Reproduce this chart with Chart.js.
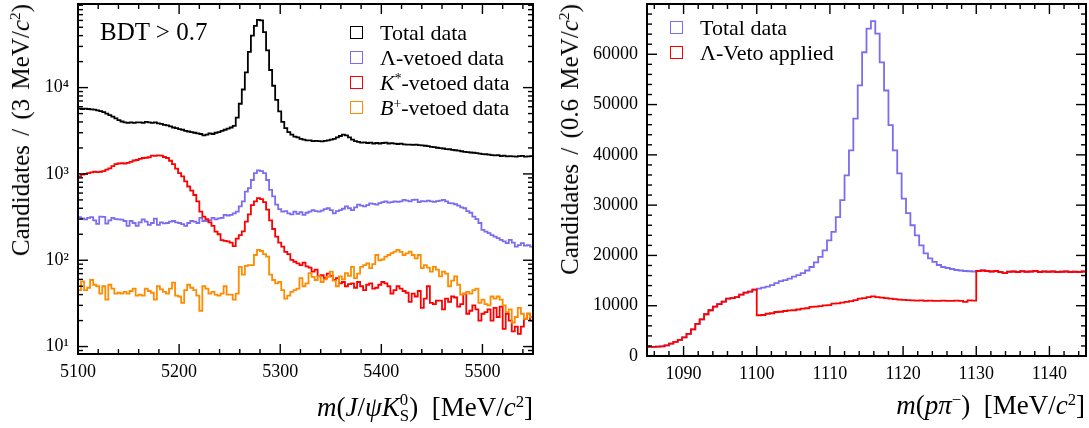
<!DOCTYPE html>
<html>
<head>
<meta charset="utf-8">
<script src="https://cdn.jsdelivr.net/npm/chart.js@4.4.1/dist/chart.umd.min.js"></script>
<style>
  body { margin: 0; width: 1089px; height: 428px; background: #fff; position: relative; overflow: hidden;
         font-family: "Liberation Serif", serif; color: #000; }
  .panel { position: absolute; top: 0; }
  .txt { position: absolute; white-space: nowrap; line-height: 1; }
  .ytitle { transform-origin: 0 0; transform: rotate(-90deg) translateX(-100%); font-size: 25px; word-spacing: 3px; }
  .xtitle { font-size: 27px; }
  sup { font-size: 0.62em; vertical-align: 0.55em; line-height: 0; }
  .stack { display: inline-block; font-size: 0.62em; line-height: 0.95; vertical-align: -0.3em; }
  .stack span { display: block; }
  .legend { position: absolute; font-size: 22px; }
  .legend .row { display: flex; align-items: center; height: 25px; }
  .legend .box { width: 13px; height: 13px; border: 1.6px solid; box-sizing: border-box; margin-right: 17px; }
</style>
</head>
<body>
<div class="panel" style="left:0px"><canvas id="bdt-chart" width="545" height="428"></canvas></div>
<div class="panel" style="left:545px"><canvas id="ppi-chart" width="544" height="428"></canvas></div>

<div class="txt" style="left:100px; top:19px; font-size:25px;">BDT &gt; 0.7</div>
<div id="bdt-legend" class="legend" style="left:350px; top:20px;"></div>
<div id="ppi-legend" class="legend" style="left:670px; top:15px;"></div>

<div class="txt ytitle" style="left:8px; top:4px;">Candidates / (3 MeV/<i>c</i><sup>2</sup>)</div>
<div class="txt ytitle" style="left:557px; top:4px;">Candidates / (0.6 MeV/<i>c</i><sup>2</sup>)</div>
<div class="txt xtitle" style="right:556px; top:392px;"><i>m</i>(<i>J</i>/<i>ψ</i><i>K</i><span class="stack"><span>0</span><span>S</span></span>)&nbsp;&nbsp;[MeV/<i>c</i><sup>2</sup>]</div>
<div class="txt xtitle" style="right:4px; top:392px;"><i>m</i>(<i>pπ</i><sup>−</sup>)&nbsp;&nbsp;[MeV/<i>c</i><sup>2</sup>]</div>

<script>
// m(J/psi K0S) histograms, 3 MeV bins from 5100 to 5550
const bdtLo = 5100, bdtWidth = 3;
const bdtTotal = [
  5700, 5650, 5700, 5650, 5600, 5550, 5450, 5350, 5200, 5000,
  4800, 4600, 4400, 4200, 4050, 3950, 3900, 3950, 3900, 3950,
  3950, 3900, 4000, 3950, 3900, 3950, 3850, 3800, 3700, 3650,
  3550, 3450, 3400, 3300, 3250, 3150, 3100, 3050, 3000, 2950,
  2900, 2800, 2850, 2950, 2900, 3000, 3050, 3150, 3250, 3350,
  3450, 3600, 4500, 6500, 9500, 15000, 26000, 40000, 52000, 61000,
  60000, 44000, 27000, 16000, 10500, 7200, 5300, 4000, 3400, 3050,
  2850, 2700, 2650, 2550, 2500, 2450, 2450, 2400, 2420, 2400,
  2380, 2420, 2450, 2500, 2550, 2650, 2750, 2850, 2800, 2650,
  2500, 2400, 2350, 2300, 2320, 2280, 2300, 2250, 2280, 2250,
  2280, 2300, 2250, 2270, 2240, 2220, 2240, 2200, 2190, 2180,
  2170, 2180, 2150, 2140, 2120, 2100, 2060, 2040, 2010, 1990,
  1970, 1940, 1930, 1900, 1880, 1860, 1830, 1800, 1790, 1770,
  1760, 1740, 1720, 1700, 1690, 1670, 1650, 1640, 1650, 1610,
  1630, 1600, 1610, 1600, 1590, 1610, 1620, 1590, 1600, 1610
];
const bdtLambdaVeto = [
  316, 305, 298, 310, 316, 290, 264, 320, 318, 265,
  290, 310, 300, 298, 295, 285, 250, 285, 270, 250,
  275, 298, 280, 257, 270, 303, 257, 275, 268, 270,
  280, 285, 275, 270, 262, 250, 270, 285, 280, 270,
  310, 285, 285, 290, 310, 298, 305, 310, 335, 330,
  335, 350, 365, 420, 480, 625, 686, 850, 1020, 1100,
  1080, 1020, 850, 655, 550, 440, 390, 365, 370, 350,
  340, 365, 345, 360, 335, 355, 365, 380, 370, 365,
  375, 390, 400, 380, 350, 370, 380, 395, 420, 400,
  380, 410, 440, 430, 420, 435, 455, 450, 440, 460,
  470, 480, 465, 470, 480, 475, 480, 500, 490, 480,
  500, 505, 470, 485, 480, 490, 480, 475, 485, 490,
  500, 480, 460, 455, 445, 430, 410, 400, 370, 355,
  320, 300, 270, 225, 215, 206, 195, 188, 180, 172,
  165, 158, 172, 160, 144, 150, 158, 148, 150, 144
];
const bdtKstarVeto = [
  935, 980, 1000, 1020, 1040, 1060, 1050, 1060, 1080, 1120,
  1160, 1230, 1300, 1320, 1330, 1320, 1340, 1380, 1430, 1450,
  1490, 1530, 1540, 1560, 1630, 1620, 1640, 1630, 1570, 1530,
  1420, 1300, 1150, 1020, 935, 820, 715, 640, 570, 480,
  366, 320, 300, 275, 250, 215, 200, 171, 168, 165,
  160, 146, 178, 195, 216, 280, 340, 436, 480, 525,
  510, 470, 385, 290, 230, 188, 160, 144, 125, 118,
  101, 96, 92, 88, 94, 85, 82, 74, 78, 65,
  67, 62, 70, 66, 59, 62, 54, 56, 50, 53,
  54, 48, 56, 50, 45, 52, 54, 47, 48, 52,
  56, 54, 50, 41, 45, 50, 47, 44, 42, 33,
  41, 38, 44, 28, 36, 50, 32, 31, 34, 34,
  27, 36, 33, 38, 37, 29, 31, 41, 24, 26,
  30, 27, 20, 24, 25, 27, 20, 28, 22, 29,
  16, 24, 20, 15, 17, 14, 17, 21, 24, 20
];
const bdtBplusVeto = [
  45, 57, 45, 48, 59, 52, 50, 41, 50, 35,
  52, 47, 41, 42, 41, 43, 41, 44, 47, 39,
  40, 39, 47, 44, 42, 35, 50, 46, 43, 41,
  47, 55, 39, 38, 32, 45, 52, 48, 45, 39,
  26, 50, 47, 41, 43, 40, 39, 41, 50, 40,
  40, 35, 41, 84, 68, 86, 88, 88, 115, 132,
  128, 118, 110, 68, 59, 54, 56, 45, 36, 39,
  43, 45, 47, 62, 50, 54, 71, 64, 59, 65,
  56, 60, 64, 74, 58, 50, 65, 60, 71, 66,
  84, 62, 70, 84, 88, 92, 81, 90, 115, 100,
  102, 110, 115, 121, 126, 132, 125, 115, 120, 126,
  115, 105, 115, 81, 88, 82, 74, 84, 78, 65,
  74, 70, 50, 58, 65, 52, 40, 41, 43, 41,
  45, 47, 32, 35, 31, 30, 38, 36, 38, 35,
  30, 25, 27, 19, 22, 28, 24, 21, 24, 22
];

// m(p pi-) histograms, 0.6 MeV bins from 1085 to 1145
const ppiLo = 1085, ppiWidth = 0.6;
const ppiTotal = [
  1800, 1800, 1850, 1900, 2100, 2450, 2800, 3200, 3700, 4400,
  5300, 6400, 7300, 8300, 9100, 9800, 10300, 10800, 11400, 11500,
  11700, 12200, 12600, 12800, 13200, 13400, 13600, 13800, 14100, 14500,
  14900, 15100, 15400, 15800, 16100, 16500, 17000, 17700, 18600, 19700,
  21000, 23000, 24700, 27600, 31000, 35900, 40900, 47200, 53800, 60400,
  65100, 66600, 64100, 58400, 52800, 45900, 40900, 36300, 31300, 28400,
  26000, 24000, 22000, 20400, 19400, 18700, 18100, 17700, 17500, 17300,
  17100, 17000, 16900, 16850, 16800, 16900, 17000, 16900, 16800, 16900,
  16700, 16500, 16750, 16800, 16700, 16850, 16750, 16800, 16900, 16700,
  16800, 16750, 16800, 16700, 16750, 16800, 16700, 16750, 16700, 16800
];
const ppiLambdaVeto = [
  1800, 1800, 1850, 1900, 2100, 2450, 2800, 3200, 3700, 4400,
  5300, 6400, 7300, 8300, 9100, 9800, 10300, 10800, 11400, 11500,
  11700, 12200, 12600, 12800, 13200, 8100, 8150, 8400, 8500, 8750,
  8800, 8950, 9080, 9100, 9250, 9420, 9500, 9750, 9800, 9900,
  10080, 10100, 10400, 10450, 10600, 10750, 10900, 11100, 11400, 11500,
  11700, 11870, 11700, 11600, 11500, 11400, 11300, 11200, 11150, 11100,
  11070, 11000, 11050, 10970, 11000, 10970, 10950, 11000, 10970, 10950,
  11000, 10980, 10750, 11070, 11000, 16900, 17000, 16900, 16800, 16900,
  16700, 16500, 16750, 16800, 16700, 16850, 16750, 16800, 16900, 16700,
  16800, 16750, 16800, 16700, 16750, 16800, 16700, 16750, 16700, 16800
];

const bdtLabels = ["Total data", "Λ-vetoed data", "K*-vetoed data", "B+-vetoed data"];
const bdtLegendHtml = ["Total data", "Λ-vetoed data", "<i>K</i><sup>*</sup>-vetoed data", "<i>B</i><sup>+</sup>-vetoed data"];
const bdtColors = ["#000000", "#7b6cf0", "#ff0000", "#ff8c00"];
const ppiLabels = ["Total data", "Λ-Veto applied"];
const ppiColors = ["#7b6cf0", "#ff0000"];

const bdtXTicks = [5100, 5200, 5300, 5400, 5500];
const bdtYTicks = [10, 100, 1000, 10000];
const ppiXTicks = [1090, 1100, 1110, 1120, 1130, 1140];
const ppiYTicks = [0, 10000, 20000, 30000, 40000, 50000, 60000];
const supDigits = { 1: "¹", 2: "²", 3: "³", 4: "⁴" };

// turn bin contents into step points: low edge of each bin, plus closing edge
function histPoints(lo, width, counts) {
  let pts = counts.map((c, i) => ({ x: lo + i * width, y: c }));
  pts.push({ x: lo + counts.length * width, y: counts[counts.length - 1] });
  return pts;
}

function range(from, to, step) {
  let out = [];
  for (let v = from; v <= to + 1e-9; v += step) out.push(+v.toFixed(6));
  return out;
}

function logMinors(lo, hi) {
  let out = [];
  for (let d = 1; d <= 100000; d *= 10) {
    for (let k = 2; k <= 9; k++) if (k * d >= lo && k * d <= hi) out.push(k * d);
  }
  return out;
}

// box around the plot area, with inward ticks on all four sides
function frameTicks(marks) {
  return {
    id: "frameTicks",
    afterDraw(chart) {
      const { ctx, chartArea: a, scales } = chart;
      const x = scales.x, y = scales.y;
      const w = 1.4;
      ctx.save();
      ctx.fillStyle = "#000";
      const vTick = (v, len) => {
        const px = x.getPixelForValue(v);
        ctx.fillRect(px - w / 2, a.bottom - len, w, len);
        ctx.fillRect(px - w / 2, a.top, w, len);
      };
      const hTick = (v, len) => {
        const py = y.getPixelForValue(v);
        ctx.fillRect(a.left, py - w / 2, len, w);
        ctx.fillRect(a.right - len, py - w / 2, len, w);
      };
      marks.xMajor.forEach((v) => vTick(v, 10));
      marks.xMinor.forEach((v) => vTick(v, 5));
      marks.yMajor.forEach((v) => hTick(v, 10));
      marks.yMinor.forEach((v) => hTick(v, 5));
      ctx.strokeStyle = "#000";
      ctx.lineWidth = 2;
      ctx.strokeRect(a.left, a.top, a.right - a.left, a.bottom - a.top);
      ctx.restore();
    },
  };
}

const tickFont = { family: "Liberation Serif", size: 18 };

function makeChart(id, cfg) {
  return new Chart(document.getElementById(id), {
    type: "line",
    data: { datasets: cfg.datasets },
    plugins: [frameTicks(cfg.frame)],
    options: {
      responsive: false,
      animation: false,
      events: [],
      layout: { padding: { top: 4, right: cfg.padRight, left: 0, bottom: 0 } },
      elements: { point: { radius: 0 }, line: { borderWidth: 1.8, tension: 0 } },
      plugins: { legend: { display: false }, tooltip: { enabled: false } },
      scales: {
        x: {
          type: "linear",
          min: cfg.xMin,
          max: cfg.xMax,
          grid: { display: false, drawTicks: false },
          border: { display: false },
          afterBuildTicks: (s) => { s.ticks = cfg.xTicks.map((v) => ({ value: v })); },
          afterFit: (s) => { s.height = cfg.xHeight; s.paddingLeft = 0; s.paddingRight = 0; },
          ticks: { color: "#000", font: tickFont, padding: 7, maxRotation: 0, callback: (v) => String(v) },
        },
        y: {
          type: cfg.yType,
          min: cfg.yMin,
          max: cfg.yMax,
          grid: { display: false, drawTicks: false },
          border: { display: false },
          afterBuildTicks: (s) => { s.ticks = cfg.yTicks.map((v) => ({ value: v })); },
          afterFit: (s) => { s.width = cfg.yWidth; s.paddingTop = 0; s.paddingBottom = 0; },
          ticks: { color: "#000", font: tickFont, padding: 9, callback: cfg.yFormat },
        },
      },
    },
  });
}

function buildLegend(elId, htmlLabels, colors) {
  let html = "";
  for (let i = 0; i < htmlLabels.length; i++) {
    html += `<div class="row"><span class="box" style="border-color:${colors[i]}"></span><span>${htmlLabels[i]}</span></div>`;
  }
  document.getElementById(elId).innerHTML = html;
}

const bdtSeries = [bdtTotal, bdtLambdaVeto, bdtKstarVeto, bdtBplusVeto];
makeChart("bdt-chart", {
  datasets: bdtSeries.map((counts, i) => ({
    label: bdtLabels[i],
    data: histPoints(bdtLo, bdtWidth, counts),
    borderColor: bdtColors[i],
    backgroundColor: "transparent",
    stepped: "before",
    order: bdtSeries.length - i,
  })),
  padRight: 12,
  xMin: 5100, xMax: 5550, xTicks: bdtXTicks, xHeight: 74,
  yType: "logarithmic", yMin: 8.2, yMax: 93000, yTicks: bdtYTicks, yWidth: 78,
  yFormat: (v) => "10" + supDigits[Math.round(Math.log10(v))],
  frame: {
    xMajor: bdtXTicks, xMinor: range(5120, 5540, 20).filter((v) => v % 100 !== 0),
    yMajor: bdtYTicks, yMinor: logMinors(8.2, 93000),
  },
});

makeChart("ppi-chart", {
  datasets: [ppiTotal, ppiLambdaVeto].map((counts, i) => ({
    label: ppiLabels[i],
    data: histPoints(ppiLo, ppiWidth, counts),
    borderColor: ppiColors[i],
    backgroundColor: "transparent",
    stepped: "before",
    order: 1 - i,
  })),
  padRight: 3,
  xMin: 1085, xMax: 1145, xTicks: ppiXTicks, xHeight: 72,
  yType: "linear", yMin: 0, yMax: 70000, yTicks: ppiYTicks, yWidth: 102,
  yFormat: (v) => String(v),
  frame: {
    xMajor: ppiXTicks, xMinor: range(1086, 1144, 2).filter((v) => v % 10 !== 0),
    yMajor: ppiYTicks, yMinor: range(2000, 68000, 2000).filter((v) => v % 10000 !== 0),
  },
});

buildLegend("bdt-legend", bdtLegendHtml, bdtColors);
buildLegend("ppi-legend", ppiLabels, ppiColors);
</script>
</body>
</html>
